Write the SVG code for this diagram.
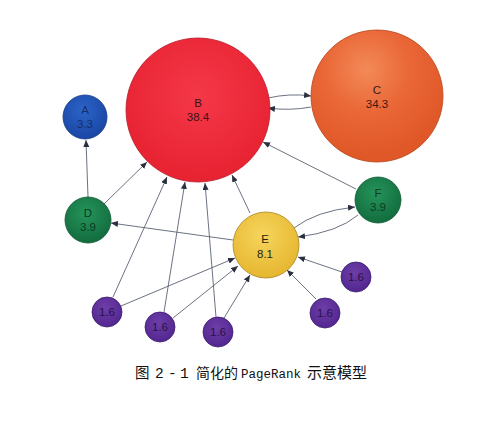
<svg xmlns="http://www.w3.org/2000/svg" width="500" height="422" viewBox="0 0 500 422">
<defs>
<radialGradient id="gRed" cx="50%" cy="40%" r="65%"><stop offset="0" stop-color="#f43848"/><stop offset="1" stop-color="#e6202f"/></radialGradient>
<radialGradient id="gOrange" cx="42%" cy="30%" r="65%"><stop offset="0" stop-color="#f38a58"/><stop offset="0.5" stop-color="#ea6737"/><stop offset="1" stop-color="#e05828"/></radialGradient>
<radialGradient id="gBlue" cx="45%" cy="35%" r="65%"><stop offset="0" stop-color="#2c64c8"/><stop offset="1" stop-color="#1946a4"/></radialGradient>
<radialGradient id="gGreen" cx="45%" cy="35%" r="65%"><stop offset="0" stop-color="#25945a"/><stop offset="1" stop-color="#126c3e"/></radialGradient>
<radialGradient id="gYellow" cx="45%" cy="35%" r="65%"><stop offset="0" stop-color="#f6d55c"/><stop offset="1" stop-color="#e6b630"/></radialGradient>
<radialGradient id="gPurple" cx="45%" cy="35%" r="65%"><stop offset="0" stop-color="#6e3ea8"/><stop offset="1" stop-color="#522690"/></radialGradient>
<marker id="arr" markerWidth="7" markerHeight="6" refX="7" refY="3" orient="auto" markerUnits="userSpaceOnUse"><path d="M0,0 L7,3 L0,6 z" fill="#2a3040"/></marker>
</defs>
<style>
.e{fill:none;stroke:#5a6274;stroke-width:0.9;marker-end:url(#arr)}
.t{font-family:"Liberation Sans",Arial,sans-serif;font-size:11.5px;text-anchor:middle}
.cap{font-family:"Liberation Mono","Noto Sans CJK SC",monospace;font-size:14.5px;fill:#111}
</style>
<rect width="500" height="422" fill="#ffffff"/>
<g id="connectors">
<path class="e" d="M88,197 L86,140"/>
<path class="e" d="M104,204 L147,162"/>
<path class="e" d="M268,98 Q290,93 311,96"/>
<path class="e" d="M311,107 Q290,111 268,108"/>
<path class="e" d="M356,189 L263,142"/>
<path class="e" d="M294,228 Q316,211 355,207"/>
<path class="e" d="M358,215 Q338,232 298,237"/>
<path class="e" d="M233,240 L111,223"/>
<path class="e" d="M250,213 L232,175"/>
<path class="e" d="M113,297 L167,177"/>
<path class="e" d="M121,306 L235,258"/>
<path class="e" d="M164,312 L185,182"/>
<path class="e" d="M173,318 L238,266"/>
<path class="e" d="M216,317 L205,183"/>
<path class="e" d="M224,318 L250,275"/>
<path class="e" d="M316,299 L287,270"/>
<path class="e" d="M342,272 L298,257"/>
</g>
<g id="B"><circle cx="198" cy="110" r="72" fill="url(#gRed)" stroke="#b81828" stroke-width="0.8"/><text class="t" x="198" y="107" fill="#3a1418">B</text><text class="t" x="198" y="121" fill="#3a1418">38.4</text></g>
<g id="C"><circle cx="377" cy="96" r="66" fill="url(#gOrange)" stroke="#b4461c" stroke-width="0.8"/><text class="t" x="377" y="94" fill="#3a1a10">C</text><text class="t" x="377" y="108" fill="#3a1a10">34.3</text></g>
<g id="A"><circle cx="85" cy="117" r="22" fill="url(#gBlue)" stroke="#123a88" stroke-width="0.8"/><text class="t" x="85" y="114" fill="#16306a">A</text><text class="t" x="85" y="128" fill="#16306a">3.3</text></g>
<g id="D"><circle cx="88" cy="220" r="23" fill="url(#gGreen)" stroke="#0c5a32" stroke-width="0.8"/><text class="t" x="88" y="217" fill="#0c3a22">D</text><text class="t" x="88" y="231" fill="#0c3a22">3.9</text></g>
<g id="F"><circle cx="378" cy="200" r="23" fill="url(#gGreen)" stroke="#0c5a32" stroke-width="0.8"/><text class="t" x="378" y="197" fill="#0c3a22">F</text><text class="t" x="378" y="211" fill="#0c3a22">3.9</text></g>
<g id="E"><circle cx="266" cy="245" r="33" fill="url(#gYellow)" stroke="#a88420" stroke-width="0.8"/><text class="t" x="265" y="243" font-size="13" fill="#2a2410">E</text><text class="t" x="265" y="258" font-size="13" fill="#2a2410">8.1</text></g>
<g id="P1"><circle cx="107" cy="312" r="15" fill="url(#gPurple)" stroke="#3e1c70" stroke-width="0.8"/><text class="t" x="107" y="316" fill="#2a1248">1.6</text></g>
<g id="P2"><circle cx="160" cy="327" r="15" fill="url(#gPurple)" stroke="#3e1c70" stroke-width="0.8"/><text class="t" x="160" y="331" fill="#2a1248">1.6</text></g>
<g id="P3"><circle cx="218" cy="332" r="15" fill="url(#gPurple)" stroke="#3e1c70" stroke-width="0.8"/><text class="t" x="218" y="336" fill="#2a1248">1.6</text></g>
<g id="P4"><circle cx="325" cy="313" r="15" fill="url(#gPurple)" stroke="#3e1c70" stroke-width="0.8"/><text class="t" x="325" y="317" fill="#2a1248">1.6</text></g>
<g id="P5"><circle cx="356" cy="277" r="15" fill="url(#gPurple)" stroke="#3e1c70" stroke-width="0.8"/><text class="t" x="356" y="281" fill="#2a1248">1.6</text></g>
<g id="caption">
<text class="cap" y="378"><tspan x="135">图</tspan><tspan x="155">2</tspan><tspan x="168">-</tspan><tspan x="180">1</tspan><tspan x="196" font-size="14">简化的</tspan><tspan x="241" font-size="12.5">PageRank</tspan><tspan x="307" font-size="15">示意模型</tspan></text>
</g>
</svg>
